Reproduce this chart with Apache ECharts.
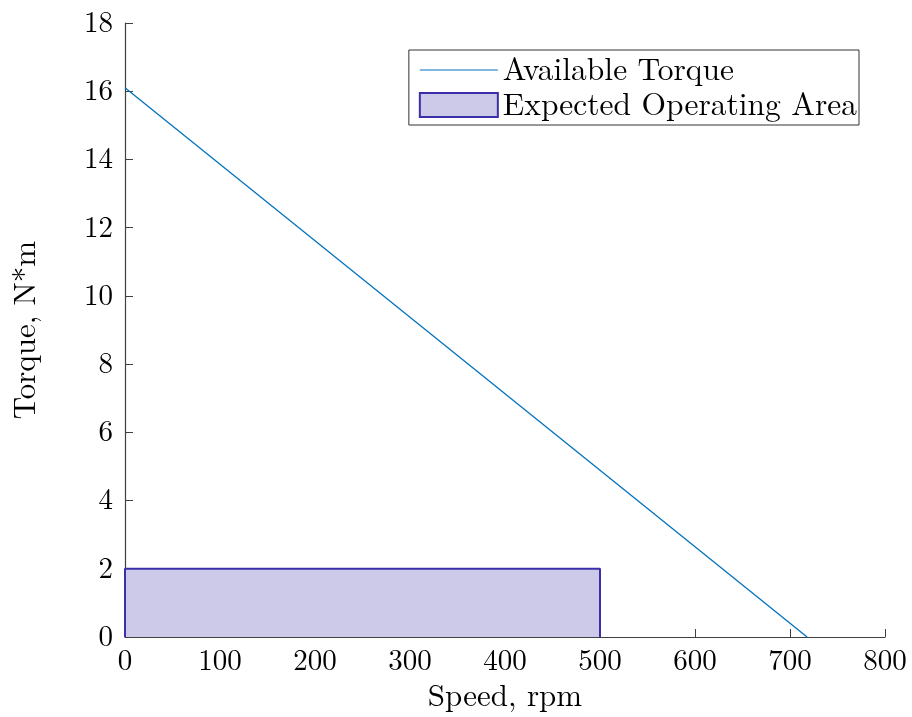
<!DOCTYPE html>
<html>
<head>
<meta charset="utf-8">
<script src="https://cdn.jsdelivr.net/npm/echarts@6/dist/echarts.min.js"></script>
<style>
html, body { margin: 0; padding: 0; background: #fff; }
#main { width: 912px; height: 717px; }
</style>
</head>
<body>
<div id="main"></div>
<script>
// curve points: speed (rpm), torque (N*m)
var torqueLine = [[0, 16.1], [718, 0]];
// expected operating area outline
var areaRect = [[0, 0], [0, 2], [500, 2], [500, 0]];
var xTicks = [0, 100, 200, 300, 400, 500, 600, 700, 800];
var yTicks = [0, 2, 4, 6, 8, 10, 12, 14, 16, 18];

var font = "'Latin Modern Roman', 'DejaVu Serif', serif";
var chart = echarts.init(document.getElementById("main"));

chart.setOption({
  backgroundColor: "#fff",
  animation: false,
  textStyle: { fontFamily: font },
  grid: { left: 125, right: 27, top: 23, bottom: 79 },
  legend: {
    right: 53,
    top: 50,
    orient: "vertical",
    backgroundColor: "#fff",
    borderColor: "#333",
    borderWidth: 1,
    padding: [4, 2, 4, 10],
    itemGap: 3,
    itemWidth: 78,
    itemHeight: 24,
    textStyle: { fontFamily: font, fontSize: 31.5, color: "#000" },
    data: [
      { name: "Available Torque", icon: "path://M0,0 L80,0 L80,1 L0,1 Z", itemStyle: { color: "#0072BD" } },
      { name: "Expected Operating Area", icon: "rect", itemStyle: { color: "#cdc9e9", borderColor: "#3a2fa8", borderWidth: 2 } }
    ]
  },
  xAxis: {
    type: "value",
    min: 0, max: 800, interval: 100,
    name: "Speed, rpm",
    nameLocation: "middle",
    nameGap: 44,
    nameTextStyle: { fontSize: 31, color: "#000", fontFamily: font },
    axisLine: { lineStyle: { color: "#404040", width: 1.2 } },
    axisTick: { inside: true, length: 8, lineStyle: { color: "#404040" } },
    axisLabel: { fontSize: 29, color: "#000", fontFamily: font, margin: 10,
      formatter: function (v) { return xTicks.indexOf(v) >= 0 ? String(v) : ""; } },
    splitLine: { show: false }
  },
  yAxis: {
    type: "value",
    min: 0, max: 18, interval: 2,
    name: "Torque, N*m",
    nameLocation: "middle",
    nameGap: 84,
    nameTextStyle: { fontSize: 31, color: "#000", fontFamily: font },
    axisLine: { show: true, lineStyle: { color: "#404040", width: 1.2 } },
    axisTick: { show: true, inside: true, length: 8, lineStyle: { color: "#404040" } },
    axisLabel: { fontSize: 29, color: "#000", fontFamily: font, margin: 12,
      formatter: function (v) { return yTicks.indexOf(v) >= 0 ? String(v) : ""; } },
    splitLine: { show: false }
  },
  series: [
    {
      name: "Expected Operating Area",
      type: "line",
      data: areaRect,
      symbol: "none",
      z: 1,
      lineStyle: { color: "#3a2fa8", width: 2 },
      itemStyle: { color: "#cdc9e9" },
      areaStyle: { color: "#cdc9e9", opacity: 1, origin: 0 }
    },
    {
      name: "Available Torque",
      type: "line",
      data: torqueLine,
      symbol: "none",
      z: 3,
      lineStyle: { color: "#0072BD", width: 1.3 },
      itemStyle: { color: "#0072BD" }
    }
  ]
});
</script>
</body>
</html>
